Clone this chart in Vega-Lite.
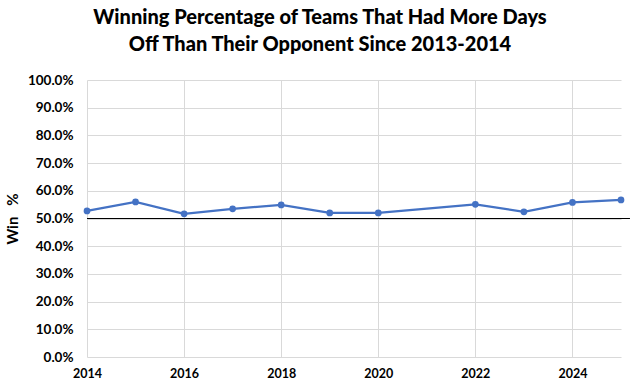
{
  "$schema": "https://vega.github.io/schema/vega-lite/v6.json",
  "autosize": "none",
  "width": 534,
  "height": 277,
  "padding": {"left": 87, "top": 80, "right": 22, "bottom": 29},
  "background": "white",
  "title": {
    "text": ["Winning Percentage of Teams That Had More Days", "Off Than Their Opponent Since 2013-2014"],
    "font": "Lato",
    "fontSize": 20,
    "fontWeight": 900,
    "color": "black",
    "anchor": "middle",
    "dx": -34,
    "offset": 18,
    "lineHeight": 27
  },
  "config": {
    "view": {"stroke": null},
    "axis": {
      "labelFont": "Lato",
      "labelFontWeight": "bold",
      "labelColor": "black",
      "labelOverlap": false,
      "titleFont": "Lato",
      "titleColor": "black",
      "gridColor": "#d9d9d9",
      "gridWidth": 1,
      "grid": true,
      "domain": false,
      "ticks": false
    }
  },
  "data": {
    "values": [
      {"year": 2014, "win": 0.5275},
      {"year": 2015, "win": 0.560},
      {"year": 2016, "win": 0.517},
      {"year": 2017, "win": 0.535},
      {"year": 2018, "win": 0.549},
      {"year": 2019, "win": 0.520},
      {"year": 2020, "win": 0.520},
      {"year": 2022, "win": 0.551},
      {"year": 2023, "win": 0.524},
      {"year": 2024, "win": 0.558},
      {"year": 2025, "win": 0.567}
    ]
  },
  "layer": [
    {
      "mark": {"type": "line", "color": "#4472C4", "strokeWidth": 2.25, "point": {"filled": true, "size": 45, "color": "#4472C4"}},
      "encoding": {
        "x": {
          "field": "year", "type": "quantitative",
          "scale": {"domain": [2014, 2025], "nice": false, "zero": false},
          "axis": {"values": [2014, 2016, 2018, 2020, 2022, 2024], "format": "d", "title": null, "labelFontSize": 12.5, "labelPadding": 10, "labelFlush": false, "labelOverlap": false}
        },
        "y": {
          "field": "win", "type": "quantitative",
          "scale": {"domain": [0, 1], "nice": false},
          "axis": {"values": [0, 0.1, 0.2, 0.3, 0.4, 0.5, 0.6, 0.7, 0.8, 0.9, 1.0], "format": ".1%", "title": "Win\u00a0\u00a0\u00a0%", "titleFontSize": 15, "titleFontWeight": "bold", "titlePadding": 7, "labelFontSize": 13.5, "labelPadding": 14, "labelOverlap": false}
        }
      }
    },
    {
      "mark": {"type": "rule", "color": "black", "strokeWidth": 1.2, "clip": false},
      "encoding": {
        "y": {"datum": 0.5, "type": "quantitative",
          "axis": {"values": [0, 0.1, 0.2, 0.3, 0.4, 0.5, 0.6, 0.7, 0.8, 0.9, 1.0], "format": ".1%", "title": "Win\u00a0\u00a0\u00a0%", "titleFontSize": 15, "titleFontWeight": "bold", "titlePadding": 7, "labelFontSize": 13.5, "labelPadding": 14, "labelOverlap": false}},
        "x": {"datum": 2014, "type": "quantitative",
          "axis": {"values": [2014, 2016, 2018, 2020, 2022, 2024], "format": "d", "title": null, "labelFontSize": 12.5, "labelPadding": 10, "labelFlush": false, "labelOverlap": false}},
        "x2": {"datum": 2025.17}
      }
    }
  ]
}
